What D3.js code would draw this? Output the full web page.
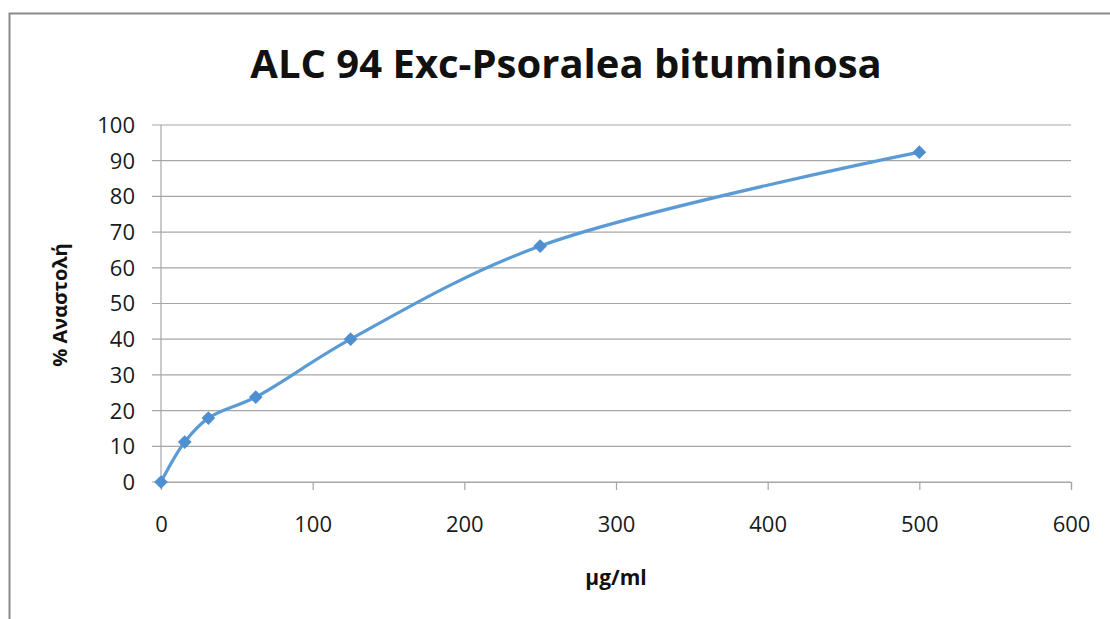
<!DOCTYPE html>
<html>
<head>
<meta charset="utf-8">
<script src="https://cdn.jsdelivr.net/npm/d3@7"></script>
<style>
  body { margin: 0; background: #fff; }
  svg { display: block; font-family: 'Open Sans', sans-serif; }
</style>
</head>
<body>
<svg id="chart" width="1110" height="619"></svg>
<script>
// concentration (µg/ml) vs % inhibition
const concentrations = [0, 15.625, 31.25, 62.5, 125, 250, 500];
const inhibition = [0, 11.2, 17.9, 23.8, 40.0, 66.1, 92.4];
const xTicks = [0, 100, 200, 300, 400, 500, 600];
const yTicks = [0, 10, 20, 30, 40, 50, 60, 70, 80, 90, 100];

const svg = d3.select('#chart');
const margin = { top: 125, right: 39, bottom: 137, left: 161 };
const width = 1110 - margin.left - margin.right;
const height = 619 - margin.top - margin.bottom;

// outer chart frame (only left/top visible in the crop)
svg.append('rect')
    .attr('x', 9.5).attr('y', 13.5)
    .attr('width', 1120).attr('height', 640)
    .attr('fill', 'none')
    .attr('stroke', '#8a8a8a')
    .attr('stroke-width', 2);

const x = d3.scaleLinear().domain([0, 600]).range([0, width]);
const y = d3.scaleLinear().domain([0, 100]).range([height, 0]);

const g = svg.append('g').attr('transform', `translate(${margin.left},${margin.top})`);

// gridlines
g.append('g')
    .selectAll('line')
    .data(yTicks)
    .enter()
    .append('line')
    .attr('x1', -9).attr('x2', width)
    .attr('y1', d => y(d)).attr('y2', d => y(d))
    .attr('stroke', '#a6a6a6')
    .attr('stroke-width', 1.2);

// y axis line
g.append('line')
    .attr('x1', 0).attr('x2', 0)
    .attr('y1', 0).attr('y2', height)
    .attr('stroke', '#a6a6a6').attr('stroke-width', 1.2);

// x axis
const xAxis = g.append('g')
    .attr('transform', `translate(0,${height})`)
    .call(d3.axisBottom(x).tickValues(xTicks).tickSize(8).tickPadding(26));
xAxis.select('.domain').attr('stroke', '#a6a6a6').attr('stroke-width', 1.2);
xAxis.selectAll('.tick line').attr('stroke', '#a6a6a6').attr('stroke-width', 1.2);
xAxis.selectAll('text')
    .attr('font-size', '22px').attr('fill', '#1a1a1a')
    .attr('font-family', "'Open Sans', sans-serif");

// y tick labels
g.append('g')
    .selectAll('text')
    .data(yTicks)
    .enter()
    .append('text')
    .attr('x', -26)
    .attr('y', d => y(d))
    .attr('dy', '0.36em')
    .attr('text-anchor', 'end')
    .attr('font-size', '22px')
    .attr('fill', '#1a1a1a')
    .text(d => d);

// line, smoothed like excel
const line = d3.line()
    .x((d, i) => x(concentrations[i]))
    .y(d => y(d))
    .curve(d3.curveCatmullRom.alpha(0.5));

g.append('path')
    .datum(inhibition)
    .attr('d', line)
    .attr('fill', 'none')
    .attr('stroke', '#5b9bd5')
    .attr('stroke-width', 3.2);

// diamond markers
g.append('g')
    .selectAll('path')
    .data(inhibition)
    .enter()
    .append('path')
    .attr('d', d3.symbol().type(d3.symbolDiamond2).size(120))
    .attr('transform', (d, i) => `translate(${x(concentrations[i])},${y(d)})`)
    .attr('fill', '#4f8fd0');

// title
svg.append('text')
    .attr('x', 566).attr('y', 78)
    .attr('text-anchor', 'middle')
    .attr('font-size', '40px')
    .attr('font-weight', 'bold')
    .attr('fill', '#111')
    .text('ALC 94 Exc-Psoralea bituminosa');

// x axis title
svg.append('text')
    .attr('x', 616).attr('y', 585)
    .attr('text-anchor', 'middle')
    .attr('font-size', '21px')
    .attr('font-weight', 'bold')
    .attr('fill', '#111')
    .text('µg/ml');

// y axis title
svg.append('text')
    .attr('transform', 'translate(67,305) rotate(-90)')
    .attr('text-anchor', 'middle')
    .attr('font-size', '20px')
    .attr('font-weight', 'bold')
    .attr('fill', '#111')
    .text('% Αναστολή');
</script>
</body>
</html>
